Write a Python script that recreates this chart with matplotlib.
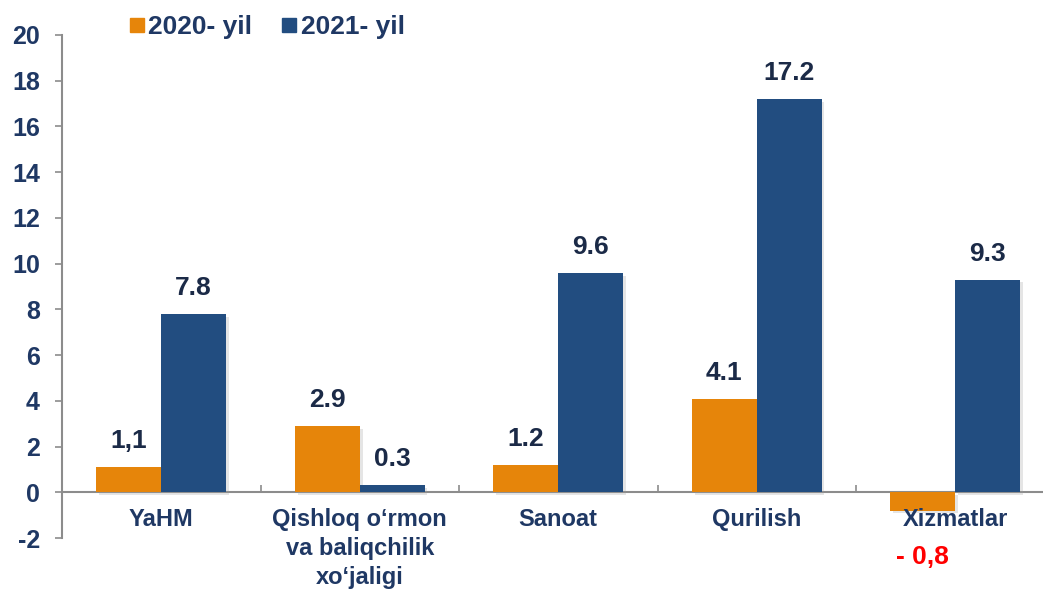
import matplotlib
matplotlib.use("Agg")
import matplotlib.pyplot as plt
import matplotlib.patheffects as pe
from matplotlib.lines import Line2D

# ---- data --------------------------------------------------------------------
categories = ["YaHM", "Qishloq o\u2018rmon\nva baliqchilik\nxo\u2018jaligi",
              "Sanoat", "Qurilish", "Xizmatlar"]
v2020 = [1.1, 2.9, 1.2, 4.1, -0.8]
v2021 = [7.8, 0.3, 9.6, 17.2, 9.3]
lab2020 = ["1,1", "2.9", "1.2", "4.1", "- 0,8"]
lab2021 = ["7.8", "0.3", "9.6", "17.2", "9.3"]
series_names = ["2020- yil", "2021- yil"]
yticks = list(range(-2, 21, 2))

ORANGE = "#E6850A"
BLUE = "#224D80"
NAVY = "#1F3864"
DARK = "#1B2A47"

plt.rcParams["font.family"] = ["Liberation Sans", "DejaVu Sans"]
plt.rcParams["font.weight"] = "bold"
plt.rcParams["axes.unicode_minus"] = False

fig = plt.figure(figsize=(10.43, 5.9), dpi=100)
W, H = 1043, 590
ax = fig.add_axes([62 / W, 52 / H, (1054.5 - 62) / W, (538 - 35) / H])

w = 0.327
xs = range(len(categories))
shadow = [pe.SimplePatchShadow(offset=(2, -2), shadow_rgbFace="#9a9a9a", alpha=0.25),
          pe.Normal()]
b1 = ax.bar([x - w / 2 for x in xs], v2020, w, color=ORANGE, zorder=3)
b2 = ax.bar([x + w / 2 for x in xs], v2021, w, color=BLUE, zorder=3)
for b in list(b1) + list(b2):
    b.set_path_effects(shadow)

# value labels
for x, v, s in zip(xs, v2020, lab2020):
    if v >= 0:
        ax.annotate(s, (x - w / 2, v), xytext=(0, 19), textcoords="offset pixels",
                    ha="center", va="baseline", fontsize=19, color=DARK)
    else:
        ax.annotate(s, (x - w / 2, 0), xytext=(0, -72), textcoords="offset pixels",
                    ha="center", va="baseline", fontsize=19, color="#FF0000")
for x, v, s in zip(xs, v2021, lab2021):
    ax.annotate(s, (x + w / 2, v), xytext=(0, 19), textcoords="offset pixels",
                ha="center", va="baseline", fontsize=19, color=DARK)

# category labels under the zero line
for x, c in zip(xs, categories):
    ax.annotate(c, (x, 0), xytext=(0, -16), textcoords="offset pixels",
                ha="center", va="top", fontsize=17, color=NAVY, linespacing=1.33,
                annotation_clip=False)

ax.set_xlim(-0.5, 4.5)
ax.set_ylim(-2, 20)
ax.set_yticks(yticks)
ax.set_xticks([0.5, 1.5, 2.5, 3.5])
ax.set_xticklabels([])
for s in ["top", "right"]:
    ax.spines[s].set_visible(False)
ax.spines["bottom"].set_position(("data", 0))
ax.spines["bottom"].set_color("#8C8C8C")
ax.spines["left"].set_color("#8C8C8C")
ax.spines["bottom"].set_linewidth(1.5)
ax.spines["left"].set_linewidth(1.5)
ax.tick_params(axis="y", direction="out", length=5, width=1.2, color="#8C8C8C",
               pad=11, labelsize=18, labelcolor=NAVY)
ax.tick_params(axis="x", direction="in", length=5, width=1.2, color="#8C8C8C")

handles = [Line2D([], [], marker="s", ls="", color=ORANGE, markersize=9.4),
           Line2D([], [], marker="s", ls="", color=BLUE, markersize=9.4)]
leg = fig.legend(handles, series_names, loc="center left",
                 bbox_to_anchor=(130 / W, 1 - 27 / H), ncol=2, frameon=False,
                 fontsize=19, handlelength=0.5, handletextpad=0.2,
                 columnspacing=1.14, borderpad=0, borderaxespad=0)
for t in leg.get_texts():
    t.set_color(NAVY)

fig.savefig("out.png", dpi=100)
